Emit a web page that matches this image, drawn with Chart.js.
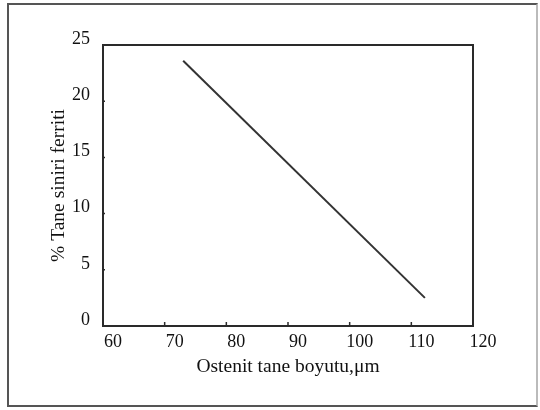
<!DOCTYPE html>
<html>
<head>
<meta charset="utf-8">
<script src="https://cdn.jsdelivr.net/npm/chart.js@4"></script>
<style>
  html, body { margin: 0; padding: 0; background: #fff; }
  #wrap { position: relative; width: 540px; height: 410px; }
  #frame { position: absolute; left: 7px; top: 3px; width: 527px; height: 400px; border: 2px solid #555; border-right-color: #bbb; }
  canvas { position: absolute; left: 0; top: 0; }
</style>
</head>
<body>
<div id="wrap">
  <div id="frame"></div>
  <canvas id="c" width="540" height="410"></canvas>
</div>
<script>
// Ostenit tane boyutu (μm) -> % tane sınırı ferriti
const grainSize = [73.0, 112.2];
const ferrite   = [23.6, 2.5];
const xTicks = [60, 70, 80, 90, 100, 110, 120];
const yTicks = [0, 5, 10, 15, 20, 25];

const ink = '#111';
const tickFont  = { family: '"Liberation Serif", "DejaVu Serif", serif', size: 18 };
const titleFont = { family: '"Liberation Serif", "DejaVu Serif", serif', size: 19.5 };

// Rahmen um die Plotfläche + kleine Ticks nach innen
const boxPlugin = {
  id: 'box',
  afterDraw(chart) {
    const { ctx, chartArea: a, scales } = chart;
    ctx.save();
    ctx.strokeStyle = '#2a2a2a';
    ctx.lineWidth = 2;
    ctx.strokeRect(a.left, a.top, a.right - a.left, a.bottom - a.top);
    ctx.lineWidth = 1.5;
    ctx.beginPath();
    xTicks.slice(1, -1).forEach(v => {
      const px = scales.x.getPixelForValue(v);
      ctx.moveTo(px, a.bottom + 1); ctx.lineTo(px, a.bottom - 4);
    });
    yTicks.slice(1, -1).forEach(v => {
      const py = scales.y.getPixelForValue(v);
      ctx.moveTo(a.left - 1, py); ctx.lineTo(a.left + 2, py);
    });
    ctx.stroke();
    ctx.restore();
  }
};

new Chart(document.getElementById('c'), {
  type: 'scatter',
  data: {
    datasets: [{
      data: grainSize.map((x, i) => ({ x, y: ferrite[i] })),
      showLine: true,
      borderColor: '#333',
      borderWidth: 2,
      pointRadius: 0
    }]
  },
  options: {
    responsive: false,
    animation: false,
    layout: { padding: { top: 45, right: 67, left: 0, bottom: 0 } },
    plugins: { legend: { display: false }, tooltip: { enabled: false } },
    scales: {
      x: {
        type: 'linear', min: 60, max: 120,
        afterBuildTicks: s => { s.ticks = xTicks.map(v => ({ value: v })); },
        afterFit: s => { s.height = 84; },
        grid: { display: false },
        border: { display: false },
        ticks: { color: ink, font: tickFont, padding: -3, labelOffset: 10, maxRotation: 0 },
        title: { display: true, text: 'Ostenit tane boyutu,μm', color: ink, font: titleFont, padding: { top: 0, bottom: 31 } }
      },
      y: {
        type: 'linear', min: 0, max: 25,
        afterBuildTicks: s => { s.ticks = yTicks.map(v => ({ value: v })); },
        afterFit: s => { s.width = 103; },
        grid: { display: false },
        border: { display: false },
        ticks: { color: ink, font: tickFont, padding: 5, labelOffset: -6 },
        title: { display: true, text: '% Tane siniri ferriti', color: ink, font: titleFont, padding: { top: 47, bottom: 0 } }
      }
    }
  },
  plugins: [boxPlugin]
});
</script>
</body>
</html>
